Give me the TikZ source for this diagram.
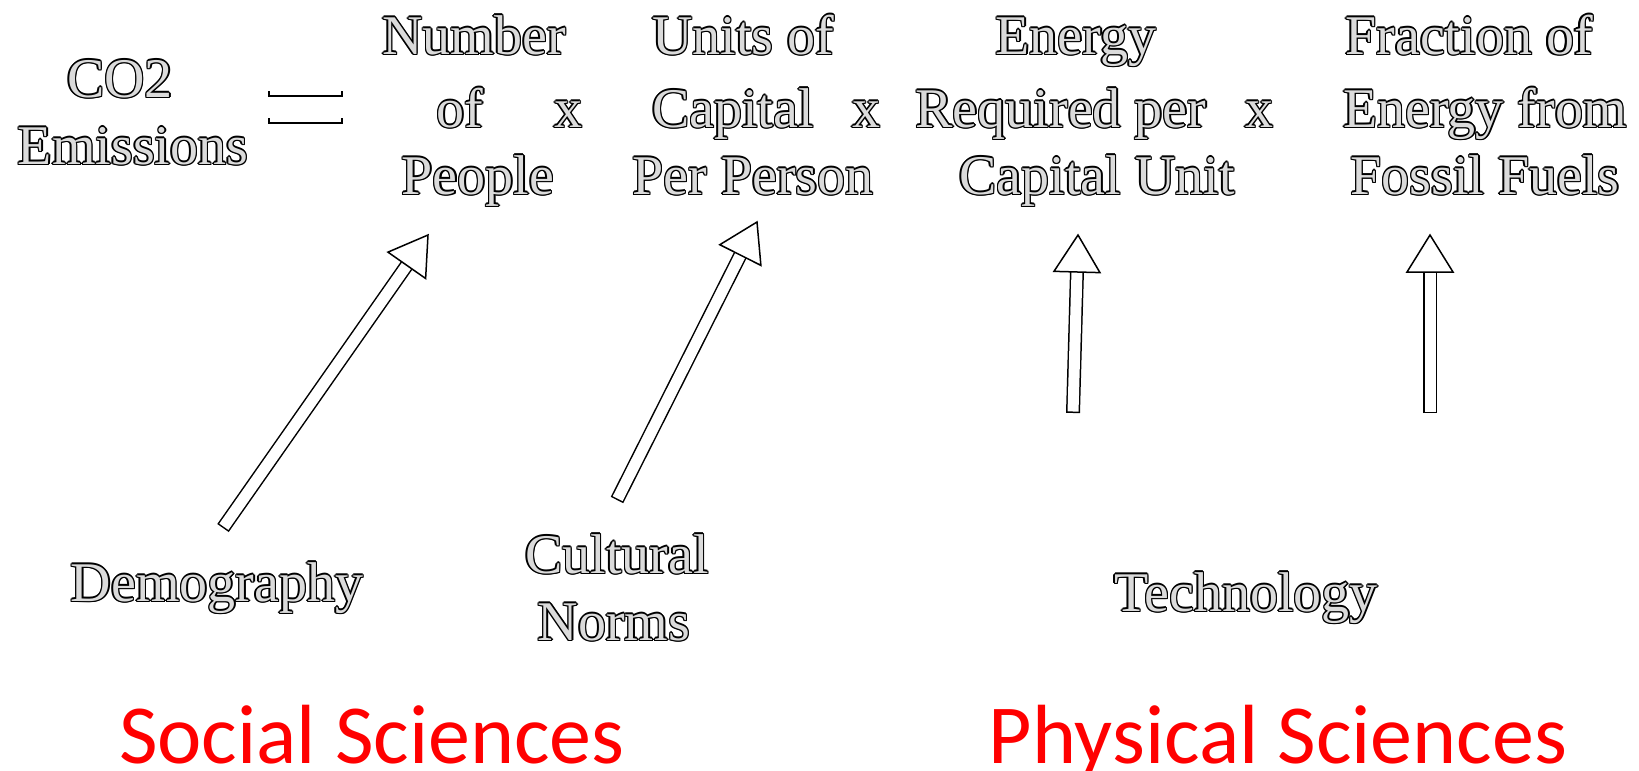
\documentclass[tikz,border=0pt]{standalone}
\usepackage{fontspec}
\setmainfont{Liberation Serif}
\newfontfamily\calib{Carlito}
\usetikzlibrary{calc}
\definecolor{holfill}{gray}{0.86}
\definecolor{scired}{RGB}{255,0,0}
\newcommand\hol[1]{{\setbox0\hbox{#1}%
  \rlap{\kern-1.4pt\copy0}\rlap{\kern1.4pt\copy0}%
  \rlap{\raise1.4pt\copy0}\rlap{\lower1.4pt\copy0}%
  \rlap{\kern-1pt\raise1pt\copy0}\rlap{\kern1pt\raise1pt\copy0}%
  \rlap{\kern-1pt\lower1pt\copy0}\rlap{\kern1pt\lower1pt\copy0}%
  {\color{holfill}\box0}}}
\newcommand\blockarr[2]{%
  \draw[line width=14pt, shorten >=36pt] (#1) -- (#2);
  \draw[white, line width=11pt, shorten >=35pt, shorten <=1.5pt] (#1) -- (#2);
  \draw[fill=white, line width=1.5pt, line join=miter]
    (#2) -- ($(#2)!37pt!(#1)!23pt!90:(#2)$) -- ($(#2)!37pt!(#1)!23pt!-90:(#2)$) -- cycle;}
\tikzset{
  lab/.style={font=\fontsize{56}{60}\selectfont, anchor=base, inner sep=0pt},
  sci/.style={font=\calib\fontsize{84}{90}\selectfont, text=scired, anchor=base, inner sep=0pt},
  eqline/.style={line width=1.6pt}
}
\begin{document}
\begin{tikzpicture}[x=1pt,y=-1pt]
\useasboundingbox (0,0) rectangle (1639,771);
% left side
\node[lab] (co2) at (120,97) {\hol{CO2}};
\node[lab] (emis) at (133,164) {\hol{Emissions}};
\draw[eqline] (269,91) -- (269,96) -- (342,96) -- (342,91);
\draw[eqline] (269,118) -- (269,123) -- (342,123) -- (342,118);
% column 1
\node[lab] (n1) at (474,54) {\hol{Number}};
\node[lab] (n2) at (460,127) {\hol{of}};
\node[lab] (x1) at (568,127) {\hol{x}};
\node[lab] (n3) at (478,194) {\hol{People}};
% column 2
\node[lab] (u1) at (743,54) {\hol{Units of}};
\node[lab] (u2) at (733,127) {\hol{Capital}};
\node[lab] (x2) at (866,127) {\hol{x}};
\node[lab] (u3) at (753,194) {\hol{Per Person}};
% column 3
\node[lab] (e1) at (1076,54) {\hol{Energy}};
\node[lab] (e2) at (1061,127) {\hol{Required per}};
\node[lab] (x3) at (1259,127) {\hol{x}};
\node[lab] (e3) at (1097,194) {\hol{Capital Unit}};
% column 4
\node[lab] (f1) at (1469,54) {\hol{Fraction of}};
\node[lab] (f2) at (1485,127) {\hol{Energy from}};
\node[lab] (f3) at (1485,194) {\hol{Fossil Fuels}};
% lower labels
\node[lab] (demo) at (217,601) {\hol{Demography}};
\node[lab] (cult) at (617,573) {\hol{Cultural}};
\node[lab] (norms) at (614,640) {\hol{Norms}};
\node[lab] (tech) at (1246,611) {\hol{Technology}};
% arrows
\coordinate (demT) at (223,528);
\coordinate (demH) at (428,235);
\coordinate (culT) at (617,500);
\coordinate (culH) at (757,222);
\coordinate (tecT) at (1073,413);
\coordinate (tecH) at (1078,235);
\coordinate (fosT) at (1430,413);
\coordinate (fosH) at (1430,235);
\blockarr{demT}{demH}
\blockarr{culT}{culH}
\blockarr{tecT}{tecH}
\blockarr{fosT}{fosH}
% sciences
\node[sci] (soc) at (372,763) {Social Sciences};
\node[sci] (phys) at (1278,763) {Physical Sciences};
\end{tikzpicture}
\end{document}
